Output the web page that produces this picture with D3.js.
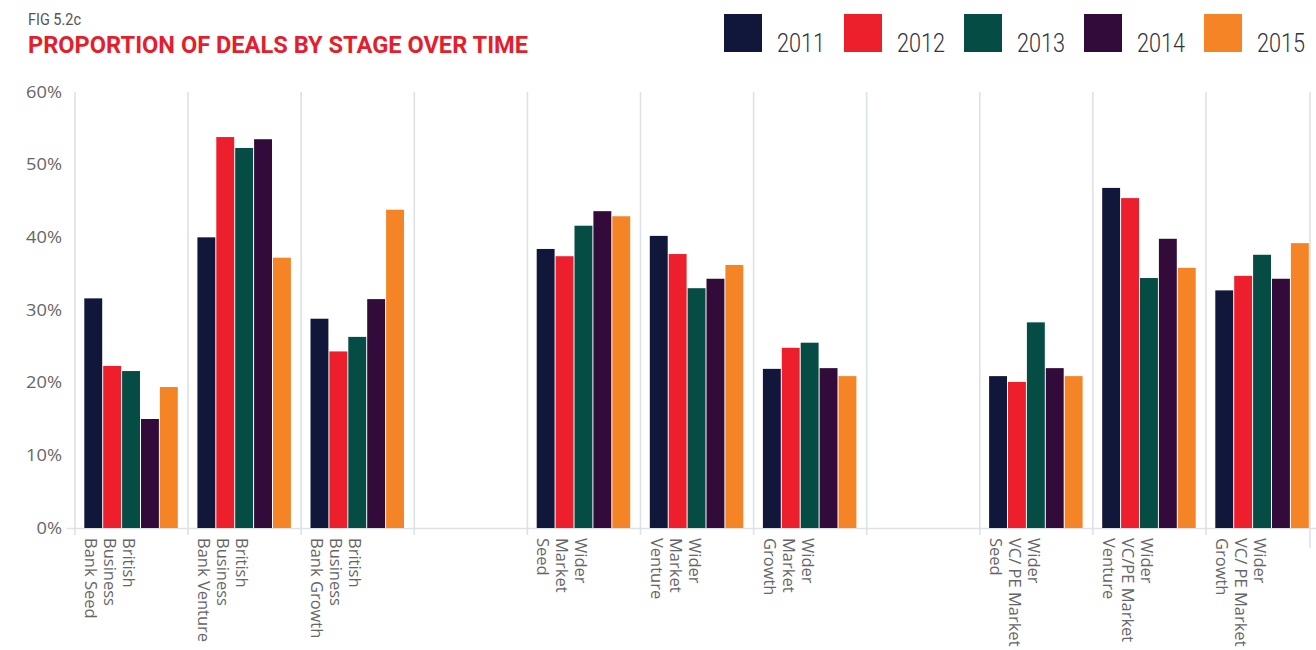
<!DOCTYPE html>
<html>
<head>
<meta charset="utf-8">
<script src="https://cdn.jsdelivr.net/npm/d3@7"></script>
<style>
  html, body { margin: 0; padding: 0; background: #ffffff; }
  svg { display: block; }
</style>
</head>
<body>
<svg id="chart" width="1316" height="650"></svg>
<script>
// ---------------- DATA ----------------
const figLabel = "FIG 5.2c";
const title = "PROPORTION OF DEALS BY STAGE OVER TIME";
const years = ["2011", "2012", "2013", "2014", "2015"];
const colors = ["#11163b", "#ee1f2d", "#054c45", "#320b3a", "#f58426"];
// categories (empty strings are the blank gap slots)
const categories = [
  "British Business Bank Seed", "British Business Bank Venture", "British Business Bank Growth", "",
  "Wider Market Seed", "Wider Market Venture", "Wider Market Growth", "",
  "Wider VC/ PE Market Seed", "Wider VC/PE Market Venture", "Wider VC/ PE Market Growth"
];
const categoryLines = [
  ["British", "Business", "Bank Seed"],
  ["British", "Business", "Bank Venture"],
  ["British", "Business", "Bank Growth"],
  [],
  ["Wider", "Market", "Seed"],
  ["Wider", "Market", "Venture"],
  ["Wider", "Market", "Growth"],
  [],
  ["Wider", "VC/ PE Market", "Seed"],
  ["Wider", "VC/PE Market", "Venture"],
  ["Wider", "VC/ PE Market", "Growth"]
];
const values2011 = [31.6, 40.0, 28.8, null, 38.4, 40.2, 21.9, null, 20.9, 46.8, 32.7];
const values2012 = [22.3, 53.8, 24.3, null, 37.4, 37.7, 24.8, null, 20.1, 45.4, 34.7];
const values2013 = [21.6, 52.3, 26.3, null, 41.6, 33.0, 25.5, null, 28.3, 34.4, 37.6];
const values2014 = [15.0, 53.5, 31.5, null, 43.6, 34.3, 22.0, null, 22.0, 39.8, 34.3];
const values2015 = [19.4, 37.2, 43.8, null, 42.9, 36.2, 20.9, null, 20.9, 35.8, 39.2];
const yTicks = [0, 10, 20, 30, 40, 50, 60];

const series = [values2011, values2012, values2013, values2014, values2015];

// ---------------- LAYOUT ----------------
const svg = d3.select("#chart");
const plotTop = 92, plotBottom = 528;
const plotLeft = 75, bandStep = 113.1;
const gridColor = "#dde2e2";

const x = d3.scaleBand()
  .domain(d3.range(categories.length))
  .range([plotLeft, plotLeft + bandStep * categories.length])
  .paddingInner(0).paddingOuter(0);

const xi = d3.scaleBand()
  .domain(years)
  .range([9.3, 103.8])
  .padding(0);

const y = d3.scaleLinear().domain([0, 60]).range([plotBottom, plotTop]);

// ---------------- TITLES ----------------
svg.append("text")
  .attr("x", 28).attr("y", 25)
  .attr("font-family", "Roboto, 'Liberation Sans', sans-serif")
  .attr("font-size", 16)
  .attr("fill", "#555555")
  .attr("textLength", 53).attr("lengthAdjust", "spacingAndGlyphs")
  .text(figLabel);

svg.append("text")
  .attr("x", 28).attr("y", 53)
  .attr("font-family", "Roboto, 'Liberation Sans', sans-serif")
  .attr("font-weight", 700)
  .attr("font-size", 24)
  .attr("fill", "#e31e2d")
  .attr("textLength", 500).attr("lengthAdjust", "spacingAndGlyphs")
  .text(title);

// ---------------- LEGEND ----------------
const legend = svg.append("g");
years.forEach((yr, i) => {
  const lx = 724 + i * 120;
  legend.append("rect")
    .attr("x", lx).attr("y", 14)
    .attr("width", 38).attr("height", 38)
    .attr("fill", colors[i]);
  legend.append("text")
    .attr("x", lx + 53).attr("y", 52)
    .attr("font-family", "Roboto, 'Liberation Sans', sans-serif")
    .attr("font-weight", 300)
    .attr("font-size", 25)
    .attr("fill", "#333333")
    .attr("textLength", 48).attr("lengthAdjust", "spacingAndGlyphs")
    .text(yr);
});

// ---------------- GRID / SEPARATORS ----------------
const grid = svg.append("g");
x.domain().forEach(i => {
  grid.append("line")
    .attr("x1", x(i)).attr("x2", x(i))
    .attr("y1", plotTop).attr("y2", plotBottom + 7)
    .attr("stroke", gridColor).attr("stroke-width", 1.6);
});
// right plot edge
grid.append("line")
  .attr("x1", 1310).attr("x2", 1310)
  .attr("y1", plotTop).attr("y2", plotBottom + 20)
  .attr("stroke", gridColor).attr("stroke-width", 1.6);
// baseline
grid.append("line")
  .attr("x1", 67).attr("x2", 1316)
  .attr("y1", plotBottom + 0.5).attr("y2", plotBottom + 0.5)
  .attr("stroke", gridColor).attr("stroke-width", 1.6);

// ---------------- Y AXIS ----------------
const yAxis = svg.append("g")
  .attr("transform", "translate(66,0)")
  .call(d3.axisLeft(y).tickValues(yTicks).tickFormat(d => d + "%").tickSize(0).tickPadding(4));
yAxis.select(".domain").remove();
yAxis.selectAll("text")
  .attr("font-family", "'Open Sans', 'DejaVu Sans', sans-serif")
  .attr("font-size", 16)
  .attr("fill", "#666666")
  .attr("x", -4 / 1.14)
  .attr("transform", "scale(1.14,1)");

// ---------------- BARS ----------------
const barsG = svg.append("g");
series.forEach((vals, j) => {
  barsG.selectAll(null)
    .data(vals.map((v, i) => ({ i, v })).filter(d => d.v != null))
    .enter().append("rect")
    .attr("x", d => x(d.i) + xi(years[j]))
    .attr("y", d => y(d.v))
    .attr("width", xi.bandwidth() - 1)
    .attr("height", d => y(0) - y(d.v))
    .attr("fill", colors[j]);
});

// ---------------- X LABELS ----------------
const xl = svg.append("g");
categoryLines.forEach((lines, i) => {
  if (!lines.length) return;
  const t = xl.append("text")
    .attr("transform", `translate(${x(i) + 48},538) rotate(90)`)
    .attr("font-family", "'Open Sans', 'DejaVu Sans', sans-serif")
    .attr("font-size", 16.5)
    .attr("fill", "#666666");
  lines.forEach((ln, k) => {
    t.append("tspan").attr("x", 0).attr("dy", k === 0 ? 0 : 19).text(ln);
  });
});
</script>
</body>
</html>
